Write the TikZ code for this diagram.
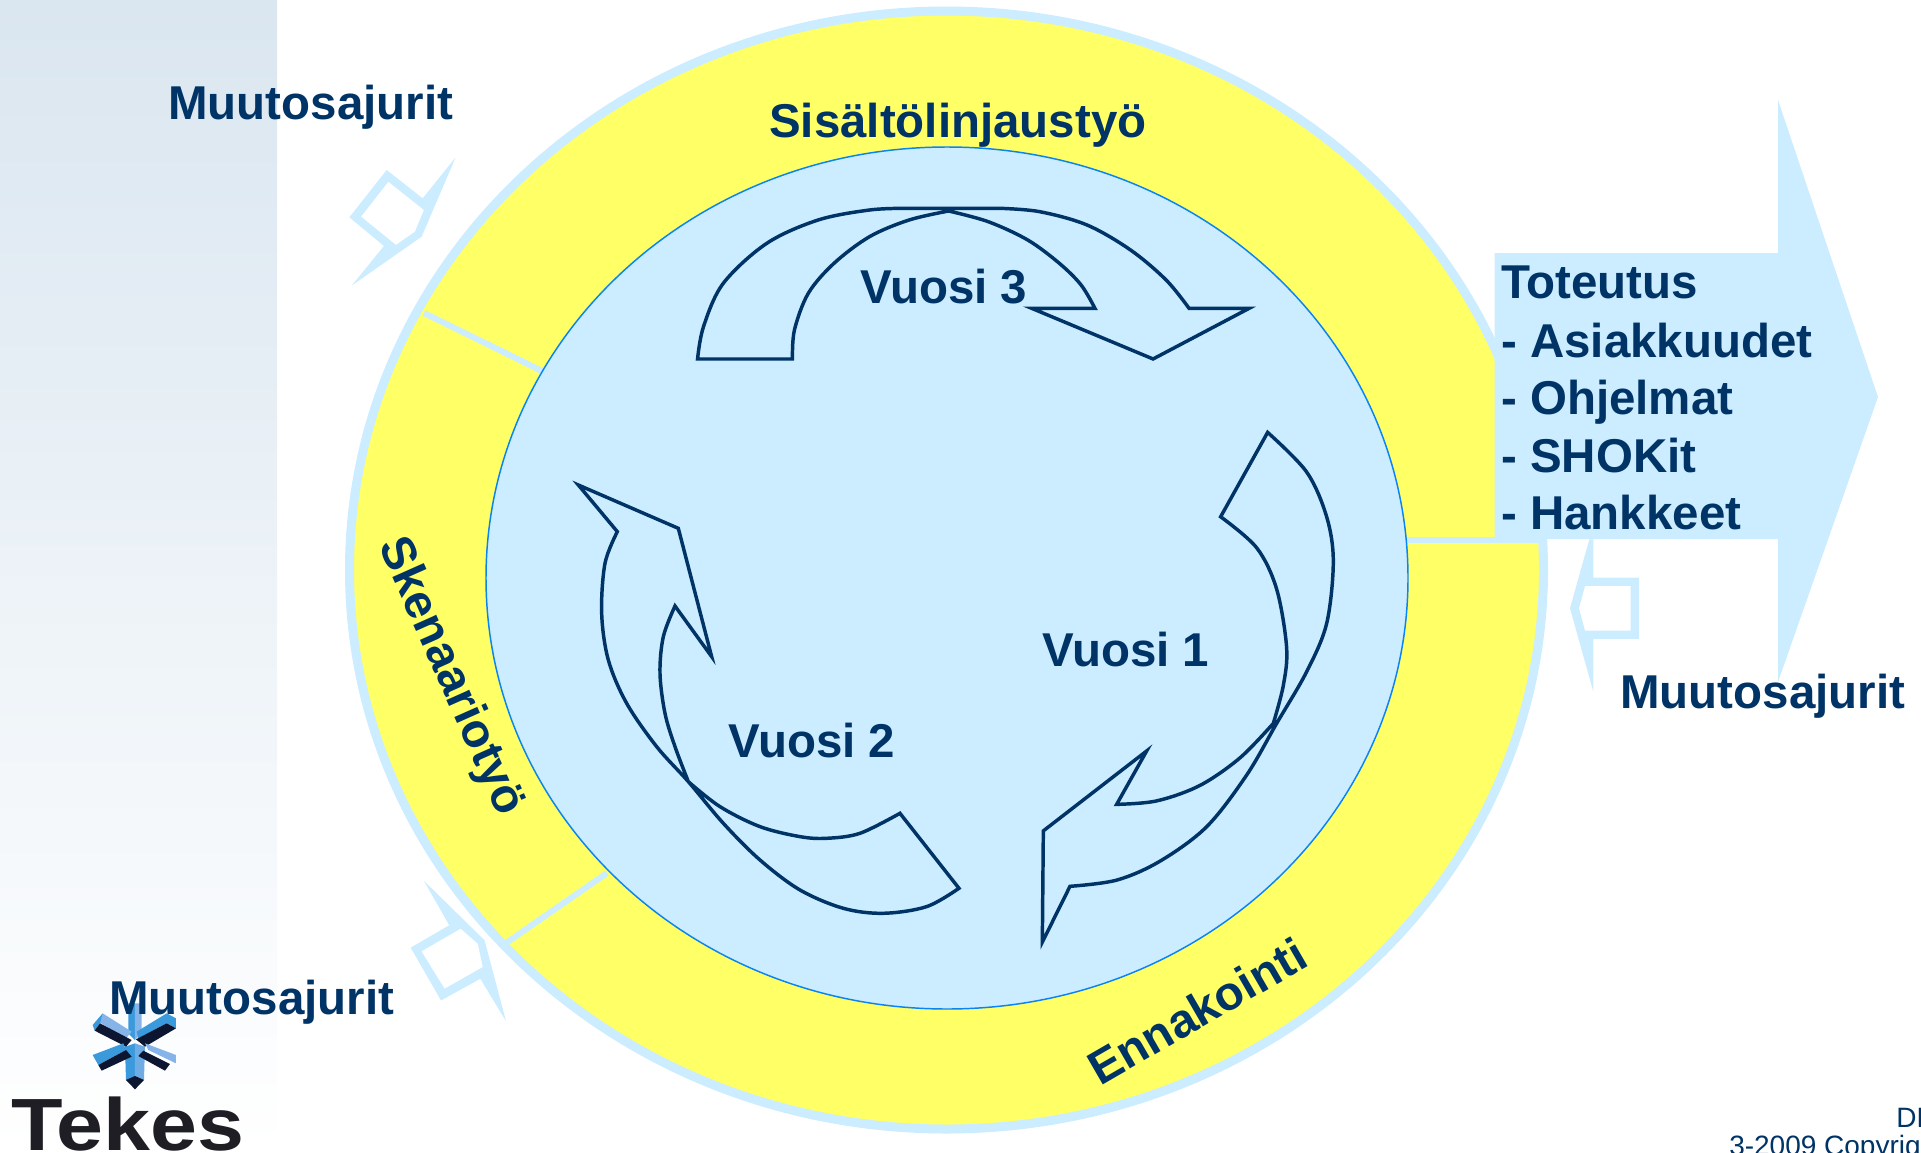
\documentclass[tikz,border=0pt]{standalone}
\usepackage{fontspec}
\setmainfont{Liberation Sans}
\definecolor{pale}{HTML}{CCECFF}
\definecolor{sun}{HTML}{FFFF66}
\definecolor{navy}{HTML}{003366}
\definecolor{rim}{HTML}{0A84F0}
\definecolor{panel}{HTML}{DAE6F0}
\definecolor{ink}{HTML}{1E1E24}
\definecolor{cy}{HTML}{3A9ADB}
\definecolor{lb}{HTML}{86B4E8}
\definecolor{dk}{HTML}{0C1630}
\tikzset{
  big/.style={font=\fontsize{35.6}{40}\selectfont\bfseries,text=navy,inner sep=0pt,anchor=base west},
  bigc/.style={font=\fontsize{35.6}{40}\selectfont\bfseries,text=navy,inner sep=0pt,anchor=center},
  small/.style={font=\fontsize{21}{24}\selectfont,text=navy,inner sep=0pt,anchor=base west},
  turn/.style={draw=navy,line width=2.6pt,miter limit=20,line join=miter,fill=none},
  divider/.style={draw=pale,line width=4.5pt},
  hollow/.style={fill=pale,even odd rule,draw=none}
}
\begin{document}
\begin{tikzpicture}[x=0.75pt,y=-0.75pt]
\useasboundingbox (0,0) rectangle (1921,1153);
\clip (0,0) rectangle (1921,1153);
% left panel
\shade[top color=panel,bottom color=white,draw=none] (0,0) rectangle (277,1153);
% small hollow arrows
\begin{scope}[shift={(300,120)},xscale=0.3333,yscale=0.3333]
\path[hollow] (467,112)--(365,350)--(155,497)--(252,378)--(148,292)--(260,150)--(368,235)--cycle
  (265,185)--(372,270)--(345,335)--(288,375)--(183,290)--cycle;
\end{scope}
\begin{scope}[shift={(0,850)},xscale=0.3571,yscale=0.3344]
\path[hollow] (1187,92)--(1258,225)--(1150,292)--(1235,450)--(1345,385)--(1417,512)--(1357,270)--cycle
  (1290,235)--(1180,303)--(1245,415)--(1352,350)--(1338,280)--cycle;
\end{scope}
% ring
\draw[draw=pale,fill=sun,line width=6.75pt] (946.5,570) ellipse [x radius=597,y radius=559];
\draw[divider] (424,313) -- (542,371);
\draw[divider] (506,943) -- (607,873);
\draw[divider] (1400,540) -- (1545,540);
% main right arrow
\fill[pale] (1494.5,253)--(1778,253)--(1778,100)--(1878,397)--(1778,682)--(1778,539)--(1494.5,539)--cycle;
\begin{scope}[shift={(1400,500)},xscale=0.3333,yscale=0.3333]
\path[hollow] (568,118)--(510,325)--(580,575)--(580,417)--(717,417)--(717,233)--(580,233)--(580,118)--cycle
  (555,258)--(692,258)--(692,392)--(555,392)--(537,325)--cycle;
\end{scope}
% inner disc
\draw[draw=rim,fill=pale,line width=1.1pt] (947,578) ellipse [x radius=461,y radius=431];
% Vuosi 3 arrow
\begin{scope}[shift={(660,180)},xscale=0.3954,yscale=0.3333]
\draw[turn] (95,537) -- plot[smooth,tension=0.55] coordinates {(95,537)(110,440)(160,310)(270,190)(400,120)(530,90)(620,85)}
  -- (860,85) -- plot[smooth,tension=0.55] coordinates {(860,85)(960,95)(1080,135)(1190,210)(1280,300)(1338,385)}
  -- (1490,385) -- (1247,537) -- (940,385) -- (1100,385)
  -- plot[smooth,tension=0.55] coordinates {(1100,385)(1065,315)(1010,250)(930,180)(830,125)(730,93)}
  -- plot[smooth,tension=0.55] coordinates {(730,93)(630,120)(530,170)(440,250)(375,340)(340,450)(335,537)} -- cycle;
\end{scope}
% Vuosi 1 arrow
\begin{scope}[shift={(1000,410)},xscale=0.3333,yscale=0.3444]
\draw[turn] (803,65) -- (662,310)
  -- plot[smooth,tension=0.55] coordinates {(662,310)(770,400)(830,520)(860,690)(850,800)(820,910)}
  -- plot[smooth,tension=0.55] coordinates {(820,910)(720,1010)(600,1090)(470,1135)(350,1145)}
  -- (440,990) -- (130,1222) -- (127,1545) -- (210,1383)
  -- plot[smooth,tension=0.55] coordinates {(210,1383)(350,1365)(480,1310)(620,1210)(740,1060)(830,910)(920,760)(980,620)(1000,440)(980,310)(920,180)(803,65)} -- cycle;
\end{scope}
% Vuosi 2 arrow
\begin{scope}[shift={(560,470)},xscale=0.3333,yscale=0.3333]
\draw[turn] (55,45) -- (355,175) -- (455,560) -- (345,408)
  -- plot[smooth,tension=0.55] coordinates {(345,408)(310,500)(300,610)(315,730)(345,830)(385,935)}
  -- plot[smooth,tension=0.55] coordinates {(385,935)(480,1010)(600,1070)(720,1100)(800,1105)(900,1090)(1020,1030)}
  -- (1197,1255)
  -- plot[smooth,tension=0.55] coordinates {(1197,1255)(1100,1310)(970,1330)(850,1315)(720,1260)(600,1170)(490,1060)(385,935)(290,830)(200,700)(145,570)(125,430)(135,280)(172,185)} -- cycle;
\end{scope}
% logo star
\begin{scope}[shift={(0,990)},xscale=0.3333,yscale=0.3333]
\fill[cy] (385,40)--(405,40)--(405,150)--(385,130)--cycle;
\fill[lb] (405,40)--(425,40)--(425,130)--(405,150)--cycle;
\fill[cy] (375,170)--(405,160)--(405,265)--(378,270)--cycle;
\fill[lb!70!cy] (405,160)--(435,170)--(432,270)--(405,265)--cycle;
\fill[dk] (378,270)--(405,258)--(432,270)--(405,298)--cycle;
\fill[lb] (308,70)--(395,125)--(378,145)--(295,95)--cycle;
\fill[cy] (278,105)--(308,70)--(300,100)--(284,122)--cycle;
\fill[dk] (284,122)--(300,100)--(395,150)--(378,170)--cycle;
\fill[cy] (500,70)--(528,85)--(528,115)--(500,100)--(415,145)--(410,125)--cycle;
\fill[dk] (408,148)--(500,100)--(528,115)--(435,170)--cycle;
\fill[cy] (278,195)--(370,160)--(378,180)--(295,225)--cycle;
\fill[dk] (295,225)--(378,180)--(395,200)--(305,242)--cycle;
\fill[lb] (435,160)--(528,195)--(528,220)--(445,180)--cycle;
\fill[dk] (430,182)--(510,222)--(495,242)--(415,198)--cycle;
\end{scope}
\node[inner sep=0pt,anchor=base west,text=ink,font=\fontsize{55.5}{60}\selectfont\bfseries,xscale=1.14] (tekes) at (11,1150) {Tekes};
% labels
\node[big] (ma) at (168,119) {Muutosajurit};
\node[big] (mb) at (109,1014) {Muutosajurit};
\node[big] (mc) at (1620,708) {Muutosajurit};
\node[big] (sis) at (769,137) {Sisältölinjaustyö};
\node[bigc,rotate=-66] (ske) at (450,677) {Skenaariotyö};
\node[bigc,rotate=30] (enn) at (1197,1011) {Ennakointi};
\node[big] (v3) at (860,303) {Vuosi 3};
\node[big] (v1) at (1042,666) {Vuosi 1};
\node[big] (v2) at (728,757) {Vuosi 2};
\node[big] (t0) at (1501,298) {Toteutus};
\node[big] (t1) at (1501,357) {- Asiakkuudet};
\node[big] (t2) at (1501,414) {- Ohjelmat};
\node[big] (t3) at (1501,472) {- SHOKit};
\node[big] (t4) at (1501,529) {- Hankkeet};
\node[small] (dm) at (1896,1127) {DM};
\node[small] (cp) at (1729,1155) {3-2009 Copyrigh};
\end{tikzpicture}
\end{document}
